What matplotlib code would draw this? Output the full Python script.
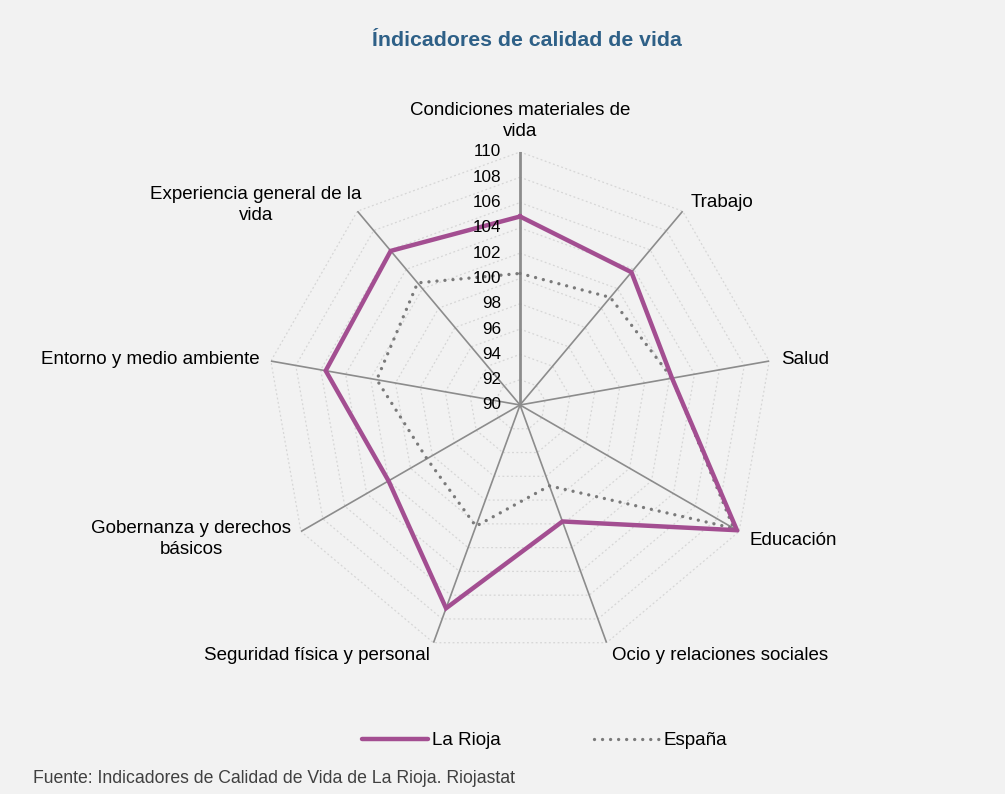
import numpy as np
import matplotlib
matplotlib.use("Agg")
import matplotlib.pyplot as plt
from matplotlib.lines import Line2D

plt.rcParams['font.family'] = ['Liberation Sans', 'DejaVu Sans']

categories = ["Condiciones materiales de\nvida", "Trabajo", "Salud", "Educación",
              "Ocio y relaciones sociales", "Seguridad física y personal",
              "Gobernanza y derechos\nbásicos", "Entorno y medio ambiente",
              "Experiencia general de la\nvida"]
la_rioja = [104.9, 103.7, 102.2, 109.8, 99.8, 107.1, 102.0, 105.6, 105.9]
espana = [100.4, 101.1, 102.2, 109.5, 96.8, 100.2, 98.5, 101.5, 102.6]
ticks = [90, 92, 94, 96, 98, 100, 102, 104, 106, 108, 110]
title = "Índicadores de calidad de vida"
source = "Fuente: Indicadores de Calidad de Vida de La Rioja. Riojastat"

BG = "#f2f2f2"
PURPLE = "#a34e91"
GRAY = "#7a7a7a"
DOT = (0, (0.01, 2.4))

fig = plt.figure(figsize=(10.05, 7.94), dpi=100, facecolor=BG)
ax = fig.add_axes([0.2657, 0.1713, 0.5035, 0.6373], projection='polar')
ax.set_facecolor(BG)
ax.set_theta_offset(np.pi / 2)
ax.set_theta_direction(-1)
ax.set_ylim(ticks[0], ticks[-1])
ax.grid(False)
ax.spines['polar'].set_visible(False)
ax.set_xticks([])
ax.set_yticks([])

n = len(categories)
ang = np.linspace(0, 2 * np.pi, n, endpoint=False)
ang_c = np.append(ang, ang[0])

# polygon grid
for t in ticks[1:]:
    ax.plot(ang_c, [t] * (n + 1), color="#d6d6d6", lw=0.9, ls=(0, (1.5, 2)), zorder=1)
# spokes
for i, a in enumerate(ang):
    ax.plot([a, a], [ticks[0], ticks[-1]], color="#8c8c8c",
            lw=2.0 if i == 0 else 1.2, zorder=2)

# series
ax.plot(ang_c, espana + [espana[0]], color=GRAY, lw=2.4, ls=DOT,
        dash_capstyle='round', zorder=3)
ax.plot(ang_c, la_rioja + [la_rioja[0]], color=PURPLE, lw=3.2, zorder=4,
        solid_joinstyle='miter')

# radial tick labels
for t in ticks:
    ax.annotate(str(t), xy=(0, t), xytext=(-19, 0), textcoords='offset pixels',
                ha='right', va='center', fontsize=12.3, color='#000000', zorder=5)

# category labels
specs = [
    ((0, 12), 'center', 'bottom'),
    ((8, 0), 'left', 'bottom'),
    ((12, 2), 'left', 'center'),
    ((10, -1), 'left', 'top'),
    ((5, -4), 'left', 'top'),
    ((-4, -4), 'right', 'top'),
    ((-10, 11), 'right', 'top'),
    ((-11, 2), 'right', 'center'),
    ((4, -13), 'right', 'bottom'),
]
for a, lab, (off, ha, va) in zip(ang, categories, specs):
    ax.annotate(lab, xy=(a, ticks[-1]), xytext=off, textcoords='offset pixels',
                ha=ha, va=va, multialignment='center', fontsize=13.5,
                color='#000000', annotation_clip=False, linespacing=1.3)

fig.text(0.524, 0.949, title, ha='center', va='center', fontsize=15.3,
         fontweight='bold', color='#2e6087')
fig.text(0.033, 0.020, source, ha='left', va='center', fontsize=12.7,
         color='#404040')

handles = [Line2D([], [], color=PURPLE, lw=3.2, solid_capstyle='round'),
           Line2D([], [], color=GRAY, lw=2.4, ls=DOT,
                  dash_capstyle='round')]
fig.legend(handles, ["La Rioja", "España"], loc='center', ncol=2,
           bbox_to_anchor=(0.542, 0.067), frameon=False, fontsize=13.5,
           handlelength=3.5, handletextpad=0.2, columnspacing=5.0)

fig.savefig("out.png", dpi=100, facecolor=BG)
